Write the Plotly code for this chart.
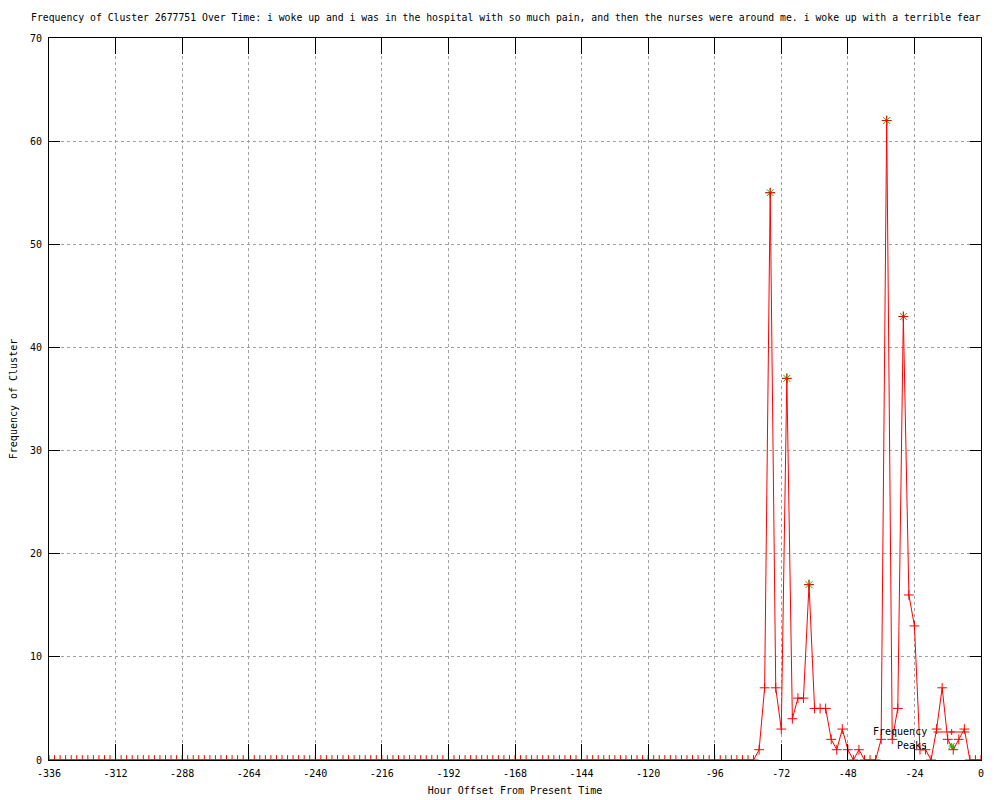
import plotly.graph_objects as go

# ---- data ----
hours = [-336, -334, -332, -330, -328, -326, -324, -322, -320, -318, -316, -314,
         -312, -310, -308, -306, -304, -302, -300, -298, -296, -294, -292, -290,
         -288, -286, -284, -282, -280, -278, -276, -274, -272, -270, -268, -266,
         -264, -262, -260, -258, -256, -254, -252, -250, -248, -246, -244, -242,
         -240, -238, -236, -234, -232, -230, -228, -226, -224, -222, -220, -218,
         -216, -214, -212, -210, -208, -206, -204, -202, -200, -198, -196, -194,
         -192, -190, -188, -186, -184, -182, -180, -178, -176, -174, -172, -170,
         -168, -166, -164, -162, -160, -158, -156, -154, -152, -150, -148, -146,
         -144, -142, -140, -138, -136, -134, -132, -130, -128, -126, -124, -122,
         -120, -118, -116, -114, -112, -110, -108, -106, -104, -102, -100, -98,
         -96, -94, -92, -90, -88, -86, -84, -82, -80, -78, -76, -74,
         -72, -70, -68, -66, -64, -62, -60, -58, -56, -54, -52, -50,
         -48, -46, -44, -42, -40, -38, -36, -34, -32, -30, -28, -26,
         -24, -22, -20, -18, -16, -14, -12, -10, -8, -6, -4, -2, 0]

frequency = [0, 0, 0, 0, 0, 0, 0, 0, 0, 0, 0, 0,
             0, 0, 0, 0, 0, 0, 0, 0, 0, 0, 0, 0,
             0, 0, 0, 0, 0, 0, 0, 0, 0, 0, 0, 0,
             0, 0, 0, 0, 0, 0, 0, 0, 0, 0, 0, 0,
             0, 0, 0, 0, 0, 0, 0, 0, 0, 0, 0, 0,
             0, 0, 0, 0, 0, 0, 0, 0, 0, 0, 0, 0,
             0, 0, 0, 0, 0, 0, 0, 0, 0, 0, 0, 0,
             0, 0, 0, 0, 0, 0, 0, 0, 0, 0, 0, 0,
             0, 0, 0, 0, 0, 0, 0, 0, 0, 0, 0, 0,
             0, 0, 0, 0, 0, 0, 0, 0, 0, 0, 0, 0,
             0, 0, 0, 0, 0, 0, 0, 0, 1, 7, 55, 7,
             3, 37, 4, 6, 6, 17, 5, 5, 5, 2, 1, 3,
             1, 0, 1, 0, 0, 0, 2, 62, 2, 5, 43, 16,
             13, 1, 1, 0, 3, 7, 2, 1, 2, 3, 0, 0, 0]

peak_hours = [-76, -70, -62, -34, -28]
peak_values = [55, 37, 17, 62, 43]

x_tick_vals = [-336, -312, -288, -264, -240, -216, -192, -168, -144, -120, -96, -72, -48, -24, 0]
x_tick_text = ["-336", "-312", "-288", "-264", "-240", "-216", "-192", "-168", "-144",
               "-120", "-96", "-72", "-48", "-24", "0"]
y_tick_vals = [0, 10, 20, 30, 40, 50, 60, 70]

title_text = ("Frequency of Cluster 2677751 Over Time: i woke up and i was in the hospital "
              "with so much pain, and then the nurses were around me. i woke up with a terrible fear")

FONT = "DejaVu Sans Mono"
RED = "#ff0000"
GREEN = "#00c000"

# page body has an 8px margin; the figure is sized so it fits the 1000x800 window
W, H = 992, 792

fig = go.Figure()

fig.add_trace(go.Scatter(
    x=peak_hours, y=peak_values, mode="markers", name="Peaks",
    marker=dict(symbol="asterisk-open", size=8, color=GREEN, line=dict(color=GREEN, width=1)),
    showlegend=False,
))
fig.add_trace(go.Scatter(
    x=hours, y=frequency, mode="lines+markers", name="Frequency",
    line=dict(color=RED, width=1),
    marker=dict(symbol="cross-thin-open", size=7, color=RED, line=dict(color=RED, width=1)),
    showlegend=False,
))

axis_common = dict(
    showline=True, linecolor="black", linewidth=1, mirror="ticks",
    ticks="inside", tickcolor="black", tickwidth=1,
    showgrid=True, gridcolor="#a0a0a0", griddash="3px,3px", gridwidth=1,
    zeroline=False, tickfont=dict(family=FONT, size=10, color="black"),
    automargin=False,
)

fig.update_xaxes(
    range=[-336, 0], tickmode="array", tickvals=x_tick_vals, ticktext=x_tick_text,
    ticklen=16, ticklabelstandoff=4,
    title=dict(text="Hour Offset From Present Time", font=dict(family=FONT, size=10, color="black"), standoff=8),
    **axis_common,
)
fig.update_yaxes(
    range=[0, 70], tickmode="array", tickvals=y_tick_vals,
    ticklen=11, ticklabelstandoff=4,
    title=dict(text="Frequency of Cluster", font=dict(family=FONT, size=10, color="black"), standoff=10),
    **axis_common,
)

# gnuplot-style key: text on the left, sample on the right
fig.add_annotation(text="Frequency", xref="paper", yref="paper", x=0.9445, y=0.0388,
                   xanchor="right", yanchor="middle", showarrow=False,
                   font=dict(family=FONT, size=10, color="black"))
fig.add_annotation(text="Peaks", xref="paper", yref="paper", x=0.9445, y=0.0194,
                   xanchor="right", yanchor="middle", showarrow=False,
                   font=dict(family=FONT, size=10, color="black"))
fig.add_shape(type="line", xref="paper", yref="paper", x0=0.949, x1=0.9875, y0=0.0388, y1=0.0388,
              line=dict(color=RED, width=1))
fig.add_shape(type="path", xref="paper", yref="paper", xsizemode="pixel", ysizemode="pixel",
              xanchor=0.9685, yanchor=0.0388, path="M -3 0 L 3 0 M 0 -3 L 0 3",
              line=dict(color=RED, width=1))
fig.add_shape(type="path", xref="paper", yref="paper", xsizemode="pixel", ysizemode="pixel",
              xanchor=0.9685, yanchor=0.0194,
              path="M -3 0 L 3 0 M 0 -3 L 0 3 M -3 -3 L 3 3 M -3 3 L 3 -3",
              line=dict(color=GREEN, width=1))

fig.update_layout(
    width=W, height=H,
    margin=dict(l=41, r=19, t=30, b=40, autoexpand=False),
    paper_bgcolor="white", plot_bgcolor="white",
    font=dict(family=FONT, size=10, color="black"),
    title=dict(text=title_text, x=23 / W, xanchor="left", xref="container",
               y=1 - 10 / H, yanchor="middle", yref="container",
               font=dict(family=FONT, size=9.8, color="black")),
    showlegend=False,
)

fig.write_html("out.html")
